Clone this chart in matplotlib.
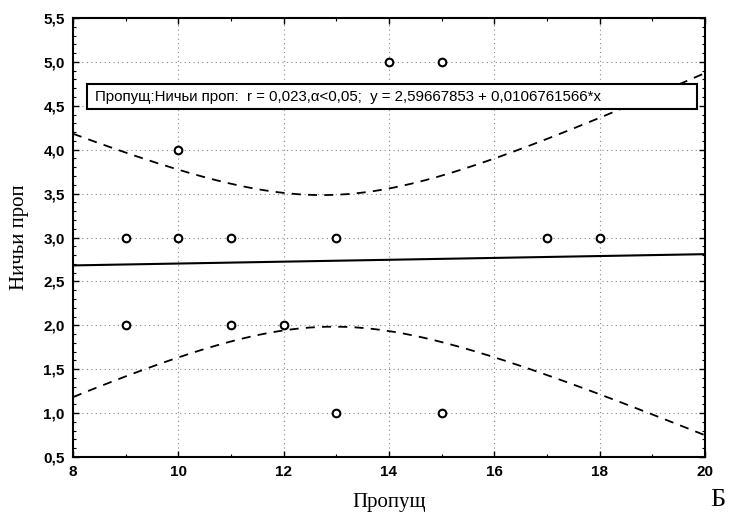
import matplotlib
matplotlib.use('Agg')
import numpy as np
import matplotlib.pyplot as plt
from matplotlib.ticker import MultipleLocator, FuncFormatter
from matplotlib.patches import Rectangle

# observed points (Пропущ, Ничьи проп)
propusch = [9, 10, 11, 13, 17, 18, 14, 15, 10, 9, 11, 12, 13, 15]
nichyi = [3, 3, 3, 3, 3, 3, 5, 5, 4, 2, 2, 2, 1, 1]

# fit from the legend text
intercept = 2.59667853
slope = 0.0106761566

# 95% band: half width at the centre, centre x, growth term
band_min_half = 0.75
band_center = 12.84
band_growth = 0.072

x_ticks = [8, 10, 12, 14, 16, 18, 20]
y_ticks = [0.5, 1.0, 1.5, 2.0, 2.5, 3.0, 3.5, 4.0, 4.5, 5.0, 5.5]

legend_text = "Пропущ:Ничьи проп:  r = 0,023,\u03b1<0,05;  y = 2,59667853 + 0,0106761566*x"

dpi = 100
fig = plt.figure(figsize=(733 / dpi, 526 / dpi), dpi=dpi)
ax = fig.add_axes([73 / 733, 1 - 457 / 526, (705 - 73) / 733, (457 - 18) / 526])

ax.set_xlim(8, 20)
ax.set_ylim(0.5, 5.5)

xs = np.linspace(8, 20, 200)
fit = intercept + slope * xs
half = np.sqrt(band_min_half ** 2 + band_growth * (xs - band_center) ** 2)

ax.grid(True, color='#888888', linestyle=(0, (1, 3)), linewidth=0.8)
ax.set_axisbelow(True)

ax.plot(xs, fit, color='black', linewidth=1.5, zorder=3)
ax.plot(xs, fit + half, color='black', linewidth=1.3, linestyle=(0, (5, 4)), zorder=3)
ax.plot(xs, fit - half, color='black', linewidth=1.3, linestyle=(0, (5, 4)), zorder=3)

ax.plot(propusch, nichyi, linestyle='none', marker='o', markersize=5.5,
        markerfacecolor='white', markeredgecolor='black', markeredgewidth=1.5, zorder=4)

# legend box
box = Rectangle((8.27, 4.46), 11.58, 0.29, facecolor='white', edgecolor='black',
                linewidth=1.5, zorder=5)
ax.add_patch(box)
ax.text(8.42, 4.605, legend_text, fontsize=10.8, family='Liberation Sans',
        va='center', ha='left', zorder=6)

ax.set_xticks(x_ticks)
ax.set_yticks(y_ticks)
ax.xaxis.set_minor_locator(MultipleLocator(1))
ax.yaxis.set_minor_locator(MultipleLocator(0.1))
ax.yaxis.set_major_formatter(FuncFormatter(lambda v, p: f"{v:.1f}".replace('.', ',')))
ax.tick_params(which='major', direction='in', length=4, width=1, top=True, right=True,
               labelsize=11, pad=6)
ax.tick_params(which='minor', direction='in', length=2, width=0.8, top=True, right=True)
for lab in ax.get_xticklabels() + ax.get_yticklabels():
    lab.set_family('Liberation Sans')
    lab.set_fontweight('bold')

for s in ax.spines.values():
    s.set_linewidth(1.5)

ax.set_xlabel("Пропущ", family='Liberation Serif', fontsize=15, labelpad=10)
ax.set_ylabel("Ничьи проп", family='Liberation Serif', fontsize=15, labelpad=10)

fig.text(718 / 733, 1 - 500 / 526, "Б", family='Liberation Serif', fontsize=19,
         ha='center', va='center')

fig.savefig("out.png", dpi=dpi)
